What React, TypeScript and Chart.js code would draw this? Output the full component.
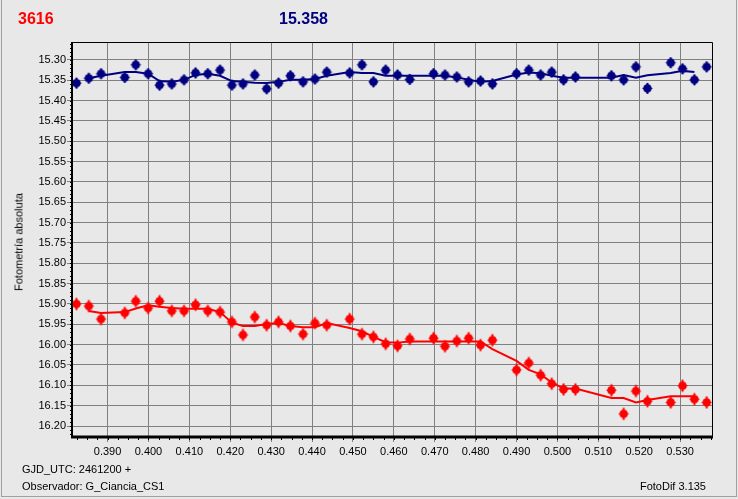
import React, { useEffect, useRef } from 'react';
import { Chart, registerables } from 'chart.js';
Chart.register(...registerables);

// Fractional GJD (GJD_UTC - 2461200)
const jd = [0.3824, 0.3854, 0.3884, 0.3942, 0.3969, 0.3999, 0.4027, 0.4057, 0.4087, 0.4115, 0.4145, 0.4175, 0.4204, 0.4231, 0.4260, 0.4289, 0.4318, 0.4347, 0.4378, 0.4407, 0.4436, 0.4492, 0.4522, 0.4550, 0.4580, 0.4609, 0.4639, 0.4697, 0.4725, 0.4754, 0.4783, 0.4812, 0.4841, 0.4900, 0.4930, 0.4959, 0.4986, 0.5015, 0.5044, 0.5132, 0.5162, 0.5192, 0.5220, 0.5277, 0.5306, 0.5335, 0.5365];

// Comparison star (blue)
const magComp = [15.357, 15.345, 15.334, 15.343, 15.312, 15.334, 15.362, 15.359, 15.349, 15.332, 15.334, 15.325, 15.362, 15.359, 15.337, 15.371, 15.357, 15.339, 15.354, 15.347, 15.330, 15.332, 15.312, 15.354, 15.325, 15.337, 15.348, 15.334, 15.337, 15.342, 15.354, 15.352, 15.359, 15.334, 15.325, 15.337, 15.330, 15.349, 15.342, 15.339, 15.349, 15.317, 15.370, 15.307, 15.322, 15.349, 15.317];

// Variable (red)
const magVar = [15.900, 15.905, 15.937, 15.922, 15.893, 15.910, 15.893, 15.917, 15.917, 15.902, 15.917, 15.920, 15.944, 15.976, 15.932, 15.952, 15.944, 15.954, 15.974, 15.947, 15.952, 15.937, 15.974, 15.981, 15.998, 16.003, 15.986, 15.984, 16.004, 15.991, 15.984, 16.001, 15.989, 16.062, 16.045, 16.075, 16.096, 16.110, 16.110, 16.112, 16.170, 16.114, 16.139, 16.142, 16.101, 16.134, 16.142];

// Smoothed curves (from 2nd to second-to-last point)
const smoothComp = [15.345, 15.339, 15.330, 15.330, 15.334, 15.352, 15.354, 15.349, 15.337, 15.334, 15.339, 15.352, 15.354, 15.356, 15.357, 15.354, 15.349, 15.349, 15.347, 15.339, 15.330, 15.332, 15.332, 15.339, 15.339, 15.339, 15.339, 15.339, 15.343, 15.349, 15.354, 15.352, 15.336, 15.331, 15.333, 15.339, 15.344, 15.344, 15.344, 15.337, 15.344, 15.338, 15.332, 15.327, 15.330];
const smoothVar = [15.917, 15.922, 15.920, 15.911, 15.903, 15.907, 15.910, 15.912, 15.912, 15.912, 15.920, 15.946, 15.954, 15.954, 15.949, 15.947, 15.954, 15.957, 15.957, 15.947, 15.959, 15.967, 15.981, 15.994, 15.995, 15.992, 15.992, 15.992, 15.992, 15.992, 15.992, 16.011, 16.040, 16.062, 16.073, 16.093, 16.108, 16.108, 16.131, 16.131, 16.142, 16.136, 16.127, 16.127, 16.127];
const smoothX = jd.slice(1, 46);

const xTicks = [0.39, 0.40, 0.41, 0.42, 0.43, 0.44, 0.45, 0.46, 0.47, 0.48, 0.49, 0.50, 0.51, 0.52, 0.53];
const yTicks = [15.30, 15.35, 15.40, 15.45, 15.50, 15.55, 15.60, 15.65, 15.70, 15.75, 15.80, 15.85, 15.90, 15.95, 16.00, 16.05, 16.10, 16.15, 16.20];

const X_MIN = 0.3813, X_MAX = 0.5378;
const Y_MIN = 15.256, Y_MAX = 16.227;

const RED = '#ff0000';
const NAVY = '#000080';
const BG = '#e8e8e9';
const FONT = '"Liberation Sans", Arial, sans-serif';

function makeMarker(color: string, vlen: number) {
  const c = document.createElement('canvas');
  c.width = 13; c.height = 15;
  const g = c.getContext('2d')!;
  g.fillStyle = color; g.strokeStyle = color;
  g.beginPath(); g.arc(6.5, 7.5, 4.3, 0, Math.PI * 2); g.fill();
  g.fillRect(5.5, 7.5 - vlen, 2, vlen * 2);
  g.fillRect(1.5, 7, 10, 1);
  return c;
}

const framePlugin = {
  id: 'frame',
  afterDraw(chart: any) {
    const { ctx, chartArea: a, scales } = chart;
    ctx.save();
    ctx.strokeStyle = '#000';
    ctx.lineWidth = 1;
    for (let v = 0.3825; v < X_MAX; v += 0.0025) {
      const px = Math.round(scales.x.getPixelForValue(v)) + 0.5;
      ctx.beginPath(); ctx.moveTo(px, a.bottom); ctx.lineTo(px, a.bottom + 3); ctx.stroke();
    }
    for (let v = 15.26; v < Y_MAX; v += 0.01) {
      const py = Math.round(scales.y.getPixelForValue(v)) + 0.5;
      ctx.beginPath(); ctx.moveTo(a.left - 2, py); ctx.lineTo(a.left, py); ctx.stroke();
    }
    ctx.beginPath();
    ctx.moveTo(a.left, a.top + 0.5); ctx.lineTo(a.right + 0.5, a.top + 0.5); ctx.lineTo(a.right + 0.5, a.bottom);
    ctx.stroke();
    ctx.lineWidth = 2;
    ctx.beginPath(); ctx.moveTo(a.left, a.top); ctx.lineTo(a.left, a.bottom + 1); ctx.stroke();
    ctx.lineWidth = 3;
    ctx.beginPath(); ctx.moveTo(a.left - 1, a.bottom); ctx.lineTo(a.right + 1, a.bottom); ctx.stroke();
    ctx.restore();
  },
};

export default function App() {
  const ref = useRef<HTMLCanvasElement>(null);
  useEffect(() => {
    document.body.style.margin = '0';
    const redMarker = makeMarker(RED, 6);
    const blueMarker = makeMarker(NAVY, 5.5);
    const chart = new Chart(ref.current!, {
      type: 'scatter',
      data: {
        datasets: [
          {
            type: 'line',
            data: smoothX.map((x, i) => ({ x, y: smoothComp[i] })),
            borderColor: NAVY, borderWidth: 2, pointRadius: 0, fill: false, tension: 0,
          },
          {
            type: 'line',
            data: smoothX.map((x, i) => ({ x, y: smoothVar[i] })),
            borderColor: RED, borderWidth: 2, pointRadius: 0, fill: false, tension: 0,
          },
          {
            data: jd.map((x, i) => ({ x, y: magComp[i] })),
            pointStyle: blueMarker as any, pointRadius: 4, backgroundColor: NAVY, borderColor: NAVY,
          },
          {
            data: jd.map((x, i) => ({ x, y: magVar[i] })),
            pointStyle: redMarker as any, pointRadius: 4, backgroundColor: RED, borderColor: RED,
          },
        ],
      },
      options: {
        animation: false,
        responsive: false,
        events: [],
        layout: { padding: { top: 42, right: 26, left: 0, bottom: 0 } },
        plugins: { legend: { display: false }, tooltip: { enabled: false } },
        scales: {
          x: {
            type: 'linear', min: X_MIN, max: X_MAX,
            afterFit: (s: any) => { s.height = 62; },
            afterBuildTicks: (s: any) => { s.ticks = xTicks.map((v) => ({ value: v })); },
            border: { display: false },
            grid: { color: '#808080', borderDash: [4, 3], tickLength: 5, tickColor: '#808080', tickBorderDash: [], lineWidth: 1 },
            ticks: {
              color: '#000', font: { family: FONT, size: 11 }, padding: 3, maxRotation: 0, autoSkip: false,
              callback: (v: any) => Number(v).toFixed(3),
            },
          },
          y: {
            type: 'linear', min: Y_MIN, max: Y_MAX, reverse: true,
            afterFit: (s: any) => { s.width = 72; },
            afterBuildTicks: (s: any) => { s.ticks = yTicks.map((v) => ({ value: v })); },
            border: { display: false },
            grid: { color: '#808080', borderDash: [4, 3], tickLength: 5, tickColor: '#808080', tickBorderDash: [], lineWidth: 1 },
            ticks: {
              color: '#000', font: { family: FONT, size: 11 }, padding: 1, autoSkip: false,
              callback: (v: any) => Number(v).toFixed(2),
            },
          },
        },
      },
      plugins: [framePlugin],
    } as any);
    return () => chart.destroy();
  }, []);

  const txt: React.CSSProperties = { position: 'absolute', fontFamily: FONT, whiteSpace: 'nowrap' };
  return (
    <div style={{ position: 'fixed', left: 0, top: 0, width: 738, height: 499, background: BG, overflow: 'hidden' }}>
      <div style={{ position: 'absolute', left: 1, top: 0, width: 734, height: 496, borderLeft: '1px solid #a0a0a0', borderRight: '1px solid #a0a0a0', borderBottom: '1px solid #a0a0a0' }} />
      <canvas ref={ref} width={738} height={499} style={{ position: 'absolute', left: 0, top: 0 }} />
      <div style={{ ...txt, left: 18, top: 10, fontSize: 16, lineHeight: '18px', fontWeight: 'bold', color: RED }}>3616</div>
      <div style={{ ...txt, left: 279, top: 10, fontSize: 16, lineHeight: '18px', fontWeight: 'bold', color: NAVY }}>15.358</div>
      <div style={{ ...txt, left: 19, top: 242, fontSize: 11, lineHeight: '13px', color: '#000', transform: 'translate(-50%, -50%) rotate(-90deg)' }}>Fotometría absoluta</div>
      <div style={{ ...txt, left: 22, top: 462, fontSize: 11, lineHeight: '14px', color: '#000' }}>GJD_UTC: 2461200 +</div>
      <div style={{ ...txt, left: 22, top: 479, fontSize: 11, lineHeight: '14px', color: '#000' }}>Observador: G_Ciancia_CS1</div>
      <div style={{ ...txt, right: 32, top: 479, fontSize: 11, lineHeight: '14px', color: '#000' }}>FotoDif 3.135</div>
    </div>
  );
}
